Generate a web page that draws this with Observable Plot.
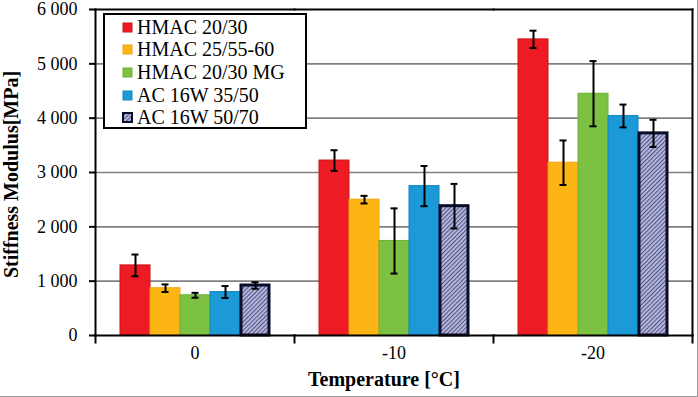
<!DOCTYPE html>
<html>
<head>
<meta charset="utf-8">
<script src="https://cdn.jsdelivr.net/npm/d3@7"></script>
<script src="https://cdn.jsdelivr.net/npm/@observablehq/plot@0.6"></script>
<style>
  html, body { margin: 0; padding: 0; background: #fff; }
  #wrap { position: relative; width: 698px; height: 397px; overflow: hidden; }
  #wrap svg { display: block; }
  #frame { position: absolute; left: 0; top: 0; width: 698px; height: 397px; box-sizing: border-box; border-right: 1px solid #999; border-bottom: 1px solid #999; pointer-events: none; }
  .legend { position: absolute; left: 103px; top: 13px; width: 204px; height: 116px; box-sizing: border-box;
            border: 2px solid #000; background: #fff; padding-top: 1px;
            font-family: "Liberation Serif", "Times New Roman", serif; font-size: 20px; color: #000; }
  .legend .row { display: flex; align-items: center; height: 22.6px; padding-left: 17px; white-space: nowrap; }
  .legend .row svg { margin-right: 4px; flex: none; }
</style>
</head>
<body>
<div id="wrap"></div>
<script>
// ---- data ----
const temperatures = ["0", "-10", "-20"];
const series = ["HMAC 20/30", "HMAC 25/55-60", "HMAC 20/30 MG", "AC 16W 35/50", "AC 16W 50/70"];
const seriesColors = ["#ED1C24", "#FDB515", "#7DC142", "#1B9AD7", "url(#hatch)"];
const seriesStrokes = ["#C8141B", "#F0A50E", "#6DB236", "#1585BE", "#0B0B2A"];
const modulusAt0 = [1290, 870, 740, 800, 920];
const modulusAtMinus10 = [3220, 2500, 1740, 2750, 2380];
const modulusAtMinus20 = [5450, 3180, 4450, 4040, 3720];
const errorAt0 = [200, 70, 45, 110, 60];
const errorAtMinus10 = [190, 70, 600, 370, 410];
const errorAtMinus20 = [160, 410, 600, 210, 250];
const yTicks = [0, 1000, 2000, 3000, 4000, 5000, 6000];
const yLabel = "Stiffness Modulus[MPa]";
const xLabel = "Temperature [°C]";

// ---- table built from the arrays ----
const valuesByTemp = [modulusAt0, modulusAtMinus10, modulusAtMinus20];
const errorsByTemp = [errorAt0, errorAtMinus10, errorAtMinus20];
const rows = [];
temperatures.forEach((t, ti) => {
  series.forEach((s, si) => {
    const v = valuesByTemp[ti][si], e = errorsByTemp[ti][si];
    rows.push({temp: t, series: s, si, value: v, lo: v - e, hi: v + e});
  });
});
const solidRows = rows.filter(d => d.si < 4);
const hatchRows = rows.filter(d => d.si === 4);

const W = 698, H = 397, mL = 95, mR = 6, mT = 9, mB = 62;
const plotH = H - mT - mB;
const fmt = d => d3.format(",")(d).replace(/,/g, " ");
const serif = "'Liberation Serif', 'Times New Roman', serif";

const chart = Plot.plot({
  width: W, height: H,
  marginLeft: mL, marginRight: mR, marginTop: mT, marginBottom: mB,
  style: {fontFamily: serif, fontSize: "18px", color: "#000", background: "#fff", overflow: "visible"},
  fx: {domain: temperatures, padding: 0, label: null, axis: null},
  x: {domain: series, paddingInner: 0, paddingOuter: 0.71, axis: null},
  y: {domain: [0, 6000], axis: null},
  color: {domain: series, range: seriesColors},
  marks: [
    Plot.ruleY(yTicks.slice(1, -1), {stroke: "#808080", strokeWidth: 1.6}),
    Plot.barY(solidRows, {fx: "temp", x: "series", y: "value", fill: "series",
      stroke: d => seriesStrokes[d.si], strokeWidth: 1}),
    Plot.barY(hatchRows, {fx: "temp", x: "series", y: "value", fill: "url(#hatch)",
      stroke: seriesStrokes[4], strokeWidth: 3, insetLeft: 1, insetRight: 1}),
    Plot.ruleX(rows, {fx: "temp", x: "series", y1: "lo", y2: "hi", stroke: "#000", strokeWidth: 2}),
    Plot.tickY(rows, {fx: "temp", x: "series", y: "lo", stroke: "#000", strokeWidth: 2, insetLeft: 11.5, insetRight: 11.5}),
    Plot.tickY(rows, {fx: "temp", x: "series", y: "hi", stroke: "#000", strokeWidth: 2, insetLeft: 11.5, insetRight: 11.5}),
    // frame lines
    Plot.frame({anchor: "top", stroke: "#000", strokeWidth: 2}),
    Plot.frame({anchor: "bottom", stroke: "#000", strokeWidth: 2}),
    Plot.frame({anchor: "left", facetAnchor: "left", stroke: "#000", strokeWidth: 2}),
    Plot.frame({anchor: "right", facetAnchor: "right", stroke: "#000", strokeWidth: 2}),
    // group separator ticks below the axis
    Plot.frame({anchor: "right", stroke: "#000", strokeWidth: 2, insetTop: plotH, insetBottom: -7}),
    Plot.frame({anchor: "left", facetAnchor: "left", stroke: "#000", strokeWidth: 2, insetTop: plotH, insetBottom: -7}),
    // y axis
    Plot.axisY(yTicks, {tickSize: 6, tickPadding: 12, tickFormat: fmt, fontSize: 18, label: null, strokeWidth: 2, stroke: "#000"}),
    // fx axis labels
    Plot.axisFx({anchor: "bottom", tickSize: 0, tickPadding: 11, fontSize: 18, label: null}),
    // axis titles
    Plot.text([yLabel], {frameAnchor: "left", facetAnchor: "left", textAnchor: "middle", lineAnchor: "middle",
      dx: -84, dy: 2, rotate: -90, fontSize: 20, fontWeight: "bold", fill: "#000"}),
    Plot.text([xLabel], {fx: () => "-10", frameAnchor: "bottom", textAnchor: "middle", dy: 50, dx: -10,
      fontSize: 20, fontWeight: "bold", fill: "#000"})
  ]
});

// hatch pattern definition
const defs = d3.select(chart).insert("defs", ":first-child");
const pat = defs.append("pattern").attr("id", "hatch").attr("patternUnits", "userSpaceOnUse")
  .attr("width", 3).attr("height", 3).attr("patternTransform", "rotate(45)");
pat.append("rect").attr("width", 3).attr("height", 3).attr("fill", "#B6B8DA");
pat.append("line").attr("x1", 0.5).attr("y1", 0).attr("x2", 0.5).attr("y2", 3)
  .attr("stroke", "#52558A").attr("stroke-width", 1.1);

const wrap = document.getElementById("wrap");
wrap.appendChild(chart);

// legend
const legend = document.createElement("div");
legend.className = "legend";
series.forEach((s, i) => {
  const row = document.createElement("div");
  row.className = "row";
  const sw = d3.create("svg").attr("width", 11).attr("height", 11);
  sw.append("rect").attr("x", 1).attr("y", 1).attr("width", 9).attr("height", 9)
    .attr("fill", seriesColors[i]).attr("stroke", i === 4 ? "#0B0B2A" : seriesStrokes[i])
    .attr("stroke-width", i === 4 ? 2 : 1);
  row.appendChild(sw.node());
  const label = document.createElement("span");
  label.textContent = s;
  row.appendChild(label);
  legend.appendChild(row);
});
wrap.appendChild(legend);
const fr = document.createElement("div");
fr.id = "frame";
wrap.appendChild(fr);
</script>
</body>
</html>
